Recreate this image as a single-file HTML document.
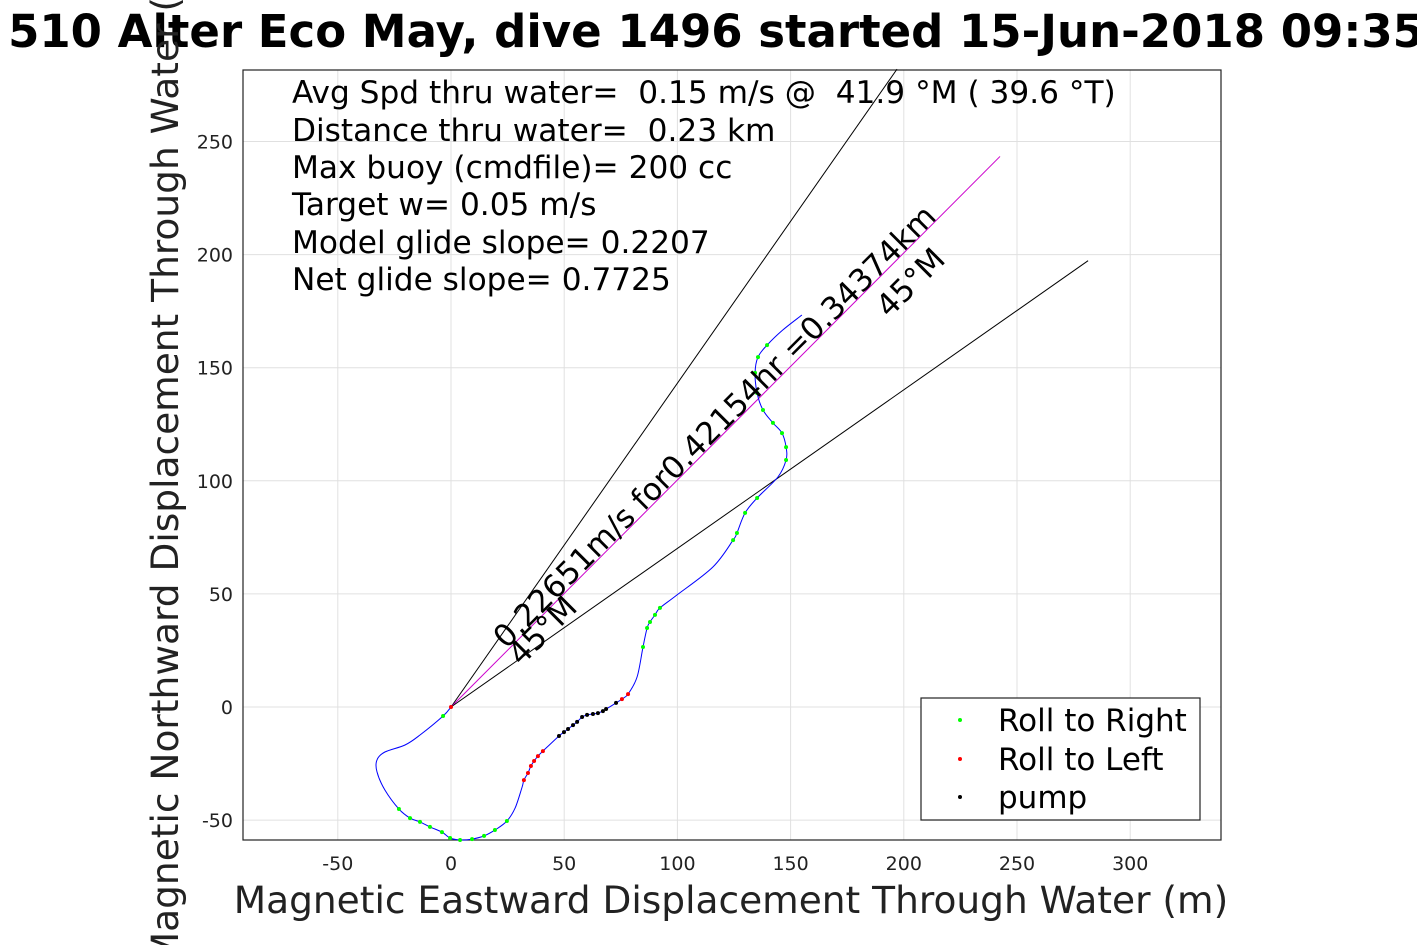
<!DOCTYPE html>
<html><head><meta charset="utf-8"><style>
html,body{margin:0;padding:0;background:#fff;overflow:hidden;width:1417px;height:945px}
svg text{font-family:"DejaVu Sans","Liberation Sans",sans-serif;white-space:pre}
</style></head><body>
<svg id="chart" width="1417" height="945" xmlns="http://www.w3.org/2000/svg" xml:space="preserve">
<text x="716" y="47" text-anchor="middle" font-size="45" font-weight="bold">510 Alter Eco May, dive 1496 started 15-Jun-2018 09:35</text>
<g id="grid"></g>
<g id="axes"></g>
<g id="marks"></g>
<text transform="translate(178,455) rotate(-90)" text-anchor="middle" font-size="37.5" fill="#222">Magnetic Northward Displacement Through Water (m)</text>
<text x="731" y="913" text-anchor="middle" font-size="37.5" fill="#222">Magnetic Eastward Displacement Through Water (m)</text>
<g font-size="31.2">
<text x="292" y="103">Avg Spd thru water=  0.15 m/s @  41.9 °M ( 39.6 °T)</text>
<text x="292" y="141">Distance thru water=  0.23 km</text>
<text x="292" y="178">Max buoy (cmdfile)= 200 cc</text>
<text x="292" y="215">Target w= 0.05 m/s</text>
<text x="292" y="253">Model glide slope= 0.2207</text>
<text x="292" y="290">Net glide slope= 0.7725</text>
</g>
<text transform="translate(722,434) rotate(-45)" text-anchor="middle" font-size="31">0.22651m/s for0.42154hr =0.34374km</text>
<text transform="translate(918,290) rotate(-45)" text-anchor="middle" font-size="31">45°M</text>
<text transform="translate(550,638) rotate(-45)" text-anchor="middle" font-size="31">45°M</text>
<g>
<rect x="921" y="698" width="279" height="122" fill="#fff" stroke="#222" stroke-width="1.2"/>
<circle cx="960" cy="720" r="2" fill="#0f0"/>
<text x="998" y="731" font-size="31">Roll to Right</text>
<circle cx="960" cy="759" r="2" fill="#f00"/>
<text x="998" y="770" font-size="31">Roll to Left</text>
<circle cx="960" cy="797" r="2" fill="#000"/>
<text x="998" y="808" font-size="31">pump</text>
</g>
</svg>
<script>
const xTicks=[-50,0,50,100,150,200,250,300];
const yTicks=[-50,0,50,100,150,200,250];
const trackX=[0,-3.5,-13.7,-20.3,-29.2,-32.7,-32.7,-29.2,-23,-18.1,-13.7,-9.3,-4,-0.4,4,9.3,14.6,19.4,24.7,28.3,31.4,32.2,34,35.3,36.7,38.4,40.6,47.7,49.9,51.7,53.9,55.7,57.9,60.1,62.7,64.9,67.1,68.5,72.9,75.5,78.2,82.2,84.8,86.6,87.9,90.1,92.3,99.8,115.7,124.6,126.3,129.9,135.2,144.4,148,148,146.2,142.2,137.8,135.2,134.3,135.6,139.6,146.6,155];
const trackY=[0,-4,-12.4,-16.8,-19.9,-23.4,-28.7,-36.7,-45.1,-49.1,-50.8,-53,-55.3,-57.9,-58.8,-58.4,-57,-54.4,-50.4,-44.7,-35.4,-32.3,-29.2,-26.1,-23.9,-21.7,-19.5,-12.8,-11.1,-9.7,-8,-6.6,-4.4,-3.5,-3.1,-2.7,-1.8,-0.9,1.8,3.5,5.7,13.3,26.5,34.9,37.6,40.7,43.8,49.5,61.9,73.8,76.9,85.8,92.4,101.7,109.2,114.9,121.1,125.6,131.3,138.8,147.7,154.7,160,166.7,173.3];
const dotType=['r','g','n','n','n','n','n','n','g','g','g','g','g','g','g','g','g','g','g','n','n','r','r','r','r','r','r','b','b','b','b','b','b','b','b','b','b','b','b','r','r','n','g','g','g','g','g','n','n','g','g','g','g','n','g','g','g','g','g','g','g','g','g','n','n'];
const rayEndX=[197,242.5,281.4];
const rayEndY=[282,243.4,197.3];
const NS='http://www.w3.org/2000/svg';
const L=243,R=1221,T=70,B=840;
const xs=v=>451+v*2.264, ys=v=>707-v*2.262;
function mk(tag,attrs,parent){const e=document.createElementNS(NS,tag);for(const k in attrs)e.setAttribute(k,attrs[k]);parent.appendChild(e);return e;}
const grid=document.getElementById('grid'),axes=document.getElementById('axes'),marks=document.getElementById('marks');
xTicks.forEach(t=>{const x=xs(t);
const g=mk('line',{x1:x,x2:x,y1:T,y2:B,stroke:'#e0e0e0','stroke-width':1},grid);


const tx=mk('text',{x:x,y:870,'text-anchor':'middle','font-size':19,fill:'#222'},axes);tx.textContent=t;

});
yTicks.forEach(t=>{const y=ys(t);
const g=mk('line',{x1:L,x2:R,y1:y,y2:y,stroke:'#e0e0e0','stroke-width':1},grid);


const tx=mk('text',{x:233,y:y+7,'text-anchor':'end','font-size':19,fill:'#222'},axes);tx.textContent=t;

});
const box=mk('rect',{x:L,y:T,width:R-L,height:B-T,fill:'none',stroke:'#222','stroke-width':1.2},axes);


rayEndX.forEach((ex,i)=>{const l=mk('line',{x1:xs(0),y1:ys(0),x2:xs(ex),y2:ys(rayEndY[i]),stroke:i==1?'#c0c':'#000','stroke-width':1},marks);

});
const P=trackX.map((v,i)=>[xs(v),ys(trackY[i])]);
let d='M'+P[0][0].toFixed(1)+','+P[0][1].toFixed(1);
for(let i=0;i<P.length-1;i++){const p0=P[Math.max(0,i-1)],p1=P[i],p2=P[i+1],p3=P[Math.min(P.length-1,i+2)];
const c1=[p1[0]+(p2[0]-p0[0])/6,p1[1]+(p2[1]-p0[1])/6],c2=[p2[0]-(p3[0]-p1[0])/6,p2[1]-(p3[1]-p1[1])/6];
d+='C'+c1.map(n=>n.toFixed(1)).join(',')+' '+c2.map(n=>n.toFixed(1)).join(',')+' '+p2.map(n=>n.toFixed(1)).join(',');}
const p=mk('path',{d:d,fill:'none',stroke:'#00f','stroke-width':1,'stroke-linejoin':'round'},marks);


const col={g:'#0f0',r:'#f00',b:'#000'};
trackX.forEach((v,i)=>{if(!col[dotType[i]])return;const c=mk('circle',{cx:xs(v),cy:ys(trackY[i]),r:2,fill:col[dotType[i]]},marks);

});
</script>
</body></html>
